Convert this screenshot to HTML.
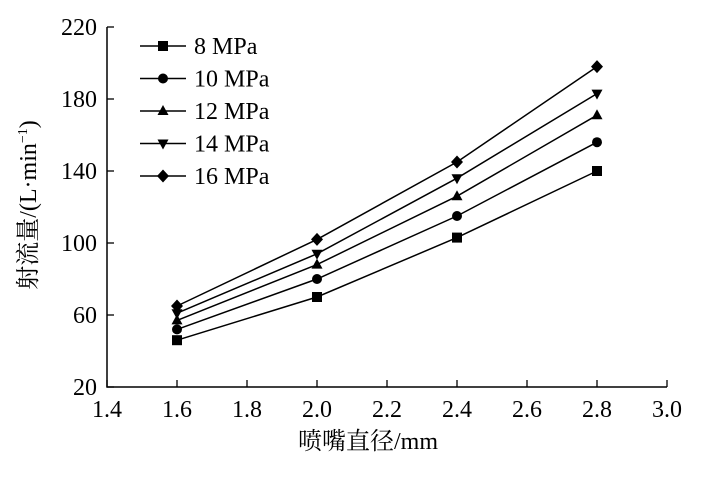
<!DOCTYPE html>
<html><head><meta charset="utf-8"><style>
body{margin:0;background:#fff}
svg text{font-family:"Liberation Serif","Noto Serif CJK SC",serif;fill:#000}
</style></head><body>
<svg width="706" height="473" viewBox="0 0 706 473">
<g id="axes"></g><g id="series"></g><g id="legend"></g>
<text x="368" y="449" font-size="24" text-anchor="middle">喷嘴直径/mm</text>
<text transform="translate(36,205) rotate(-90)" font-size="24" text-anchor="middle">射流量/(L·min<tspan font-size="14" dy="-9">−1</tspan><tspan dy="9">)</tspan></text>
</svg>
<script>
const xCats=[1.6,2.0,2.4,2.8];
const seriesNames=["8 MPa","10 MPa","12 MPa","14 MPa","16 MPa"];
const s8=[46,70,103,140];
const s10=[52,80,115,156];
const s12=[57,88,126,171];
const s14=[61,94,136,183];
const s16=[65,102,145,198];
const xTicks=[1.4,1.6,1.8,2.0,2.2,2.4,2.6,2.8,3.0];
const yTicks=[20,60,100,140,180,220];
const allSeries=[s8,s10,s12,s14,s16];
const markers=["square","circle","up","down","diamond"];
const NS="http://www.w3.org/2000/svg";
const X=v=>107+(v-1.4)/1.6*560;
const Y=v=>387-(v-20)/200*360;
function mk(tag,attrs,parent){const e=document.createElementNS(NS,tag);for(const k in attrs)e.setAttribute(k,attrs[k]);parent.appendChild(e);return e;}
const ax=document.getElementById('axes');
let l=mk('path',{d:`M${X(1.4)},${Y(220)}V${Y(20)}H${X(3.0)}`,stroke:'#000','stroke-width':1.5,fill:'none'},ax);


xTicks.forEach(t=>{
 const tk=mk('line',{x1:X(t),x2:X(t),y1:Y(20),y2:Y(20)-7,stroke:'#000','stroke-width':1.3},ax);
 
 
 const tx=mk('text',{x:X(t),y:417,'font-size':24,'text-anchor':'middle'},ax);tx.textContent=t.toFixed(1);
 
 
});
yTicks.forEach(t=>{
 const tk=mk('line',{x1:X(1.4),x2:X(1.4)+7,y1:Y(t),y2:Y(t),stroke:'#000','stroke-width':1.3},ax);
 
 
 const tx=mk('text',{x:97,y:Y(t)+8,'font-size':24,'text-anchor':'end'},ax);tx.textContent=t;
 
 
});
function marker(type,x,y,parent){
 let e;
 if(type==='square')e=mk('rect',{x:x-5,y:y-5,width:10,height:10},parent);
 else if(type==='circle')e=mk('circle',{cx:x,cy:y,r:5},parent);
 else if(type==='up')e=mk('polygon',{points:`${x},${y-6} ${x+5.5},${y+4} ${x-5.5},${y+4}`},parent);
 else if(type==='down')e=mk('polygon',{points:`${x},${y+6} ${x+5.5},${y-4} ${x-5.5},${y-4}`},parent);
 else e=mk('polygon',{points:`${x},${y-6.5} ${x+6},${y} ${x},${y+6.5} ${x-6},${y}`},parent);
 e.setAttribute('fill','#000');
 
 
}
const sg=document.getElementById('series');
allSeries.forEach((s,i)=>{
 const g=mk('g',{},sg);
 
 
 const p=mk('polyline',{points:s.map((v,j)=>X(xCats[j])+','+Y(v)).join(' '),fill:'none',stroke:'#000','stroke-width':1.5},g);
 
 
 s.forEach((v,j)=>marker(markers[i],X(xCats[j]),Y(v),g));
});
const lg=document.getElementById('legend');
seriesNames.forEach((n,i)=>{
 const y=46+i*32.5;
 const g=mk('g',{},lg);
 
 
 mk('line',{x1:140,x2:186,y1:y,y2:y,stroke:'#000','stroke-width':1.5},g);
 marker(markers[i],163,y,g);
 const t=mk('text',{x:194,y:y+8,'font-size':24},g);t.textContent=n;
});
</script>
</body></html>
